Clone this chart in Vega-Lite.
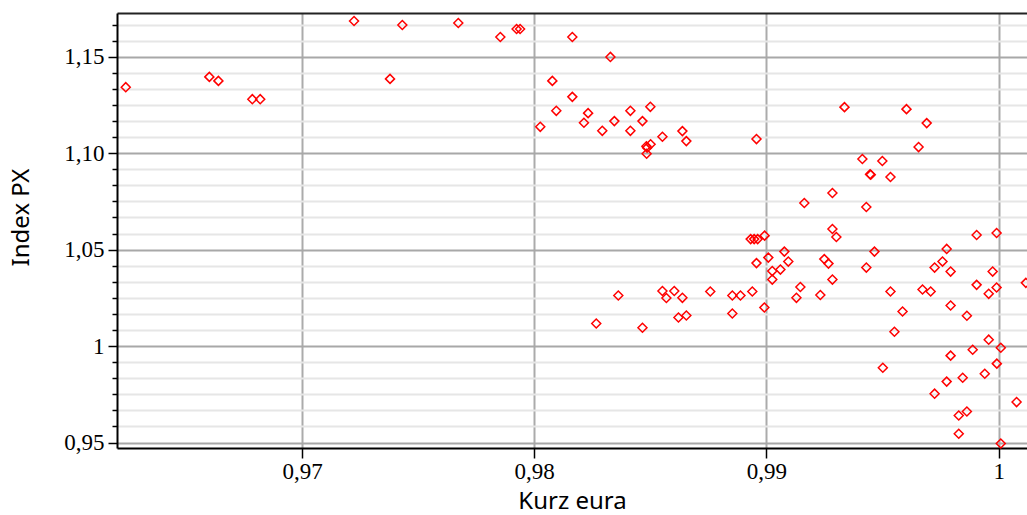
{
  "$schema": "https://vega.github.io/schema/vega-lite/v6.json",
  "width": 910,
  "height": 435,
  "autosize": {"type": "none"},
  "padding": {"left": 117, "top": 13, "right": 0, "bottom": 67},
  "background": "white",
  "config": {"view": {"stroke": null}},
  "data": {"values": [
    {"kurz": 0.96241, "px": 1.13421}, {"kurz": 0.96601, "px": 1.13954}, {"kurz": 0.96640, "px": 1.13747},
    {"kurz": 0.96786, "px": 1.12800}, {"kurz": 0.96820, "px": 1.12800}, {"kurz": 0.97224, "px": 1.16853},
    {"kurz": 0.97432, "px": 1.16646}, {"kurz": 0.97673, "px": 1.16749}, {"kurz": 0.97854, "px": 1.16025},
    {"kurz": 0.97924, "px": 1.16439}, {"kurz": 0.97939, "px": 1.16439}, {"kurz": 0.98164, "px": 1.16025},
    {"kurz": 0.98328, "px": 1.14990}, {"kurz": 0.97379, "px": 1.13851}, {"kurz": 0.98078, "px": 1.13747},
    {"kurz": 0.98164, "px": 1.12919}, {"kurz": 0.98095, "px": 1.12195}, {"kurz": 0.98232, "px": 1.12076},
    {"kurz": 0.98414, "px": 1.12195}, {"kurz": 0.98500, "px": 1.12402}, {"kurz": 0.98026, "px": 1.11366},
    {"kurz": 0.98214, "px": 1.11574}, {"kurz": 0.98345, "px": 1.11662}, {"kurz": 0.98466, "px": 1.11662},
    {"kurz": 0.98293, "px": 1.11159}, {"kurz": 0.98414, "px": 1.11159}, {"kurz": 0.98552, "px": 1.10849},
    {"kurz": 0.98638, "px": 1.11144}, {"kurz": 0.98655, "px": 1.10626}, {"kurz": 0.98483, "px": 1.10357},
    {"kurz": 0.98486, "px": 1.10280}, {"kurz": 0.98501, "px": 1.10461}, {"kurz": 0.98484, "px": 1.09969},
    {"kurz": 0.98957, "px": 1.10730}, {"kurz": 0.99163, "px": 1.07417}, {"kurz": 0.98932, "px": 1.05544},
    {"kurz": 0.98947, "px": 1.05544}, {"kurz": 0.98962, "px": 1.05544}, {"kurz": 0.98992, "px": 1.05725},
    {"kurz": 0.99008, "px": 1.04586}, {"kurz": 0.98957, "px": 1.04301}, {"kurz": 0.99077, "px": 1.04896},
    {"kurz": 0.99094, "px": 1.04379}, {"kurz": 0.99025, "px": 1.03887}, {"kurz": 0.99060, "px": 1.03965},
    {"kurz": 0.99025, "px": 1.03447}, {"kurz": 0.99146, "px": 1.03059}, {"kurz": 0.99129, "px": 1.02500},
    {"kurz": 0.98362, "px": 1.02619}, {"kurz": 0.98267, "px": 1.01170}, {"kurz": 0.98466, "px": 1.00947},
    {"kurz": 0.98552, "px": 1.02852}, {"kurz": 0.98569, "px": 1.02490}, {"kurz": 0.98603, "px": 1.02852},
    {"kurz": 0.98638, "px": 1.02500}, {"kurz": 0.98758, "px": 1.02826}, {"kurz": 0.98853, "px": 1.02619},
    {"kurz": 0.98888, "px": 1.02619}, {"kurz": 0.98939, "px": 1.02826}, {"kurz": 0.98621, "px": 1.01480},
    {"kurz": 0.98655, "px": 1.01584}, {"kurz": 0.98853, "px": 1.01687}, {"kurz": 0.98991, "px": 1.01998},
    {"kurz": 0.99284, "px": 1.07935}, {"kurz": 0.99284, "px": 1.06071}, {"kurz": 0.99301, "px": 1.05657},
    {"kurz": 0.99249, "px": 1.04508}, {"kurz": 0.99267, "px": 1.04275}, {"kurz": 0.99284, "px": 1.03447},
    {"kurz": 0.99232, "px": 1.02645}, {"kurz": 0.99336, "px": 1.12386}, {"kurz": 0.99603, "px": 1.12283},
    {"kurz": 0.99690, "px": 1.11558}, {"kurz": 0.99655, "px": 1.10316}, {"kurz": 0.99413, "px": 1.09695},
    {"kurz": 0.99499, "px": 1.09591}, {"kurz": 0.99446, "px": 1.08908}, {"kurz": 0.99449, "px": 1.08882},
    {"kurz": 0.99534, "px": 1.08763}, {"kurz": 0.99430, "px": 1.07210}, {"kurz": 0.99905, "px": 1.05761},
    {"kurz": 0.99991, "px": 1.05864}, {"kurz": 0.99465, "px": 1.04896}, {"kurz": 0.99430, "px": 1.04068},
    {"kurz": 0.99776, "px": 1.05036}, {"kurz": 0.99758, "px": 1.04379}, {"kurz": 0.99724, "px": 1.04068},
    {"kurz": 0.99793, "px": 1.03861}, {"kurz": 0.99974, "px": 1.03861}, {"kurz": 0.99534, "px": 1.02826},
    {"kurz": 0.99672, "px": 1.02930}, {"kurz": 0.99707, "px": 1.02826}, {"kurz": 0.99905, "px": 1.03173},
    {"kurz": 0.99957, "px": 1.02707}, {"kurz": 0.99991, "px": 1.03033}, {"kurz": 1.00117, "px": 1.03276},
    {"kurz": 0.99586, "px": 1.01791}, {"kurz": 0.99793, "px": 1.02101}, {"kurz": 0.99863, "px": 1.01573},
    {"kurz": 0.99551, "px": 1.00745}, {"kurz": 0.99957, "px": 1.00331}, {"kurz": 1.00009, "px": 0.99912},
    {"kurz": 0.99888, "px": 0.99809}, {"kurz": 0.99793, "px": 0.99503}, {"kurz": 0.99992, "px": 0.99089},
    {"kurz": 0.99501, "px": 0.98877}, {"kurz": 0.99940, "px": 0.98566}, {"kurz": 0.99845, "px": 0.98359},
    {"kurz": 0.99776, "px": 0.98157}, {"kurz": 0.99724, "px": 0.97531}, {"kurz": 1.00077, "px": 0.97096},
    {"kurz": 0.99828, "px": 0.96398}, {"kurz": 0.99863, "px": 0.96605}, {"kurz": 0.99828, "px": 0.95451},
    {"kurz": 1.00009, "px": 0.94948}
  ]},
  "resolve": {"axis": {"x": "independent", "y": "independent"}},
  "layer": [
    {
      "mark": {"type": "point", "opacity": 0},
      "encoding": {
        "x": {"field": "kurz", "type": "quantitative",
          "scale": {"domain": [0.962033, 1.001219], "nice": false, "zero": false},
          "axis": {"orient": "top", "labels": false, "ticks": false, "grid": false, "domain": true, "domainColor": "#222222", "domainWidth": 2, "title": null}},
        "y": {"field": "px", "type": "quantitative",
          "scale": {"domain": [0.94715, 1.17267], "nice": false, "zero": false},
          "axis": {"orient": "left", "values": [0.958333, 0.966667, 0.975, 0.983333, 0.991667, 1.008333, 1.016667, 1.025, 1.033333, 1.041667, 1.058333, 1.066667, 1.075, 1.083333, 1.091667, 1.108333, 1.116667, 1.125, 1.133333, 1.141667, 1.158333, 1.166667],
            "labels": false, "ticks": true, "tickSize": 5, "tickColor": "black", "tickWidth": 1.5,
            "grid": true, "gridColor": "#e6e6e6", "gridWidth": 2, "domain": false, "title": null}}
      }
    },
    {
      "mark": {"type": "point", "shape": "diamond", "filled": false, "color": "#ff0000", "size": 81, "strokeWidth": 1.5, "opacity": 1},
      "encoding": {
        "x": {"field": "kurz", "type": "quantitative",
          "scale": {"domain": [0.962033, 1.001219], "nice": false, "zero": false},
          "axis": {"orient": "bottom", "values": [0.97, 0.98, 0.99, 1],
            "labelExpr": "datum.value == 1 ? '1' : replace(format(datum.value, '.2f'), '.', ',')",
            "grid": true, "gridColor": "#ababab", "gridWidth": 2,
            "tickSize": 10, "tickColor": "black", "tickWidth": 1.5,
            "domainColor": "black", "domainWidth": 2,
            "labelFont": "Liberation Serif", "labelFontSize": 23, "labelColor": "black", "labelPadding": 2,
            "labelOverlap": false, "labelFlush": false,
            "title": "Kurz eura", "titleFont": "Noto Sans", "titleFontSize": 24, "titleFontWeight": "normal", "titleColor": "black", "titleY": 41}},
        "y": {"field": "px", "type": "quantitative",
          "scale": {"domain": [0.94715, 1.17267], "nice": false, "zero": false},
          "axis": {"orient": "left", "values": [0.95, 1, 1.05, 1.1, 1.15],
            "labelExpr": "datum.value == 1 ? '1' : replace(format(datum.value, '.2f'), '.', ',')",
            "grid": true, "gridColor": "#a8a8a8", "gridWidth": 2,
            "tickSize": 9, "tickColor": "black", "tickWidth": 1.5,
            "domainColor": "black", "domainWidth": 2,
            "labelFont": "Liberation Serif", "labelFontSize": 23, "labelColor": "black", "labelPadding": 4,
            "labelOverlap": false, "labelFlush": false,
            "title": "Index PX", "titleFont": "Noto Sans", "titleFontSize": 24, "titleFontWeight": "normal", "titleColor": "black", "titleX": -84, "titleY": 204}}
      }
    }
  ]
}
